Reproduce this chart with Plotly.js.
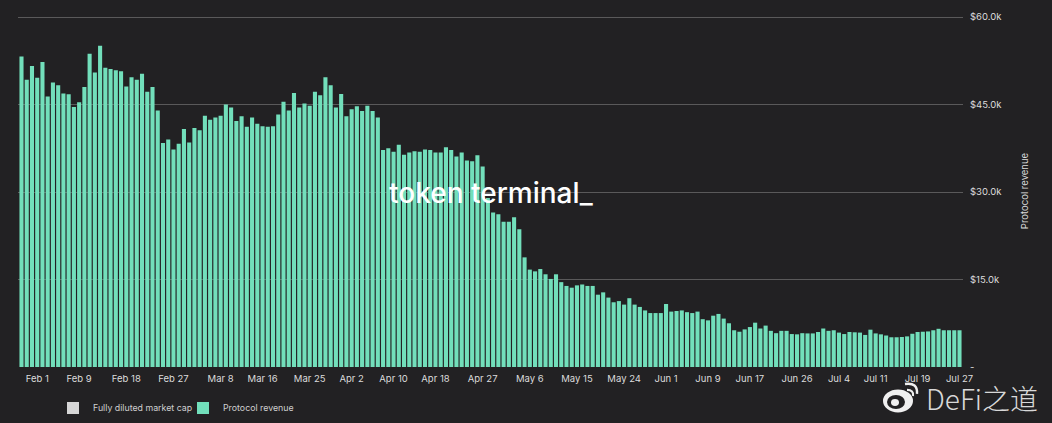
<!DOCTYPE html>
<html><head><meta charset="utf-8">
<script src="https://cdn.plot.ly/plotly-3.0.1.min.js"></script>
<style>html,body{margin:0;padding:0;background:#222123;overflow:hidden}</style>
</head><body><div id="chart" style="width:1052px;height:423px"></div>
<script>
const firstDay = '2022-01-29';
const oneDayMs = 86400000;
const protocolRevenueK = [
53.25,49.25,51.6,49.6,52.3,46.4,48.8,48.3,46.9,46.75,44.6,45.4,48.0,53.7,50.5,55.1,51.3,51.1,50.9,50.7,
48.1,49.7,49.25,50.3,47.2,48.0,44.0,38.4,39.0,37.3,38.3,40.8,38.5,41.0,40.6,43.1,42.4,42.8,43.1,45.0,
44.5,42.2,43.0,41.2,42.8,41.7,41.3,41.2,41.3,43.3,45.5,44.0,47.0,44.5,45.2,44.8,47.2,46.6,49.7,48.3,
44.5,46.8,43.0,44.2,44.7,43.9,44.8,43.9,42.8,37.2,37.5,36.9,38.1,36.4,36.8,37.0,36.9,37.3,37.2,36.8,
36.8,37.7,37.2,36.1,36.8,35.4,35.3,36.3,34.4,29.0,26.5,26.2,24.9,24.9,25.7,23.6,18.8,16.7,16.4,16.8,
15.9,15.1,15.9,14.55,13.9,13.6,14.0,14.15,13.9,13.9,12.4,12.8,11.9,11.1,11.3,10.7,11.8,10.7,10.3,9.7,
9.25,9.25,9.25,10.8,9.5,9.6,9.7,9.4,9.25,9.5,8.2,8.0,8.8,9.1,8.3,7.5,6.3,6.05,6.45,6.85,
7.6,6.6,7.1,6.2,5.8,6.2,6.2,5.65,5.6,5.8,5.76,5.76,6.0,6.6,6.2,6.3,5.9,5.65,6.0,5.95,
5.9,5.5,6.4,5.76,5.6,5.4,5.1,5.1,5.15,5.25,5.7,6.0,6.05,6.1,6.3,6.55,6.3,6.3,6.3,6.3
];
const marketCapPlaceholder = [null];
const tickDates = ['2022-02-01','2022-02-09','2022-02-18','2022-02-27','2022-03-08','2022-03-16','2022-03-25','2022-04-02','2022-04-10','2022-04-18','2022-04-27','2022-05-06','2022-05-15','2022-05-24','2022-06-01','2022-06-09','2022-06-17','2022-06-26','2022-07-04','2022-07-11','2022-07-19','2022-07-27'];
const tickLabels = ['Feb 1','Feb 9','Feb 18','Feb 27','Mar 8','Mar 16','Mar 25','Apr 2','Apr 10','Apr 18','Apr 27','May 6','May 15','May 24','Jun 1','Jun 9','Jun 17','Jun 26','Jul 4','Jul 11','Jul 19','Jul 27'];
const yTicks = [0,15,30,45,60];
const yLabels = ['-','$15.0k','$30.0k','$45.0k','$60.0k'];

const W=1052,H=423,L=18,R=963,T=14.5,B=367;
const px=x=>(x-L)/(R-L), py=y=>(B-y)/(B-T);
function ell(cx,cy,rx,ry,fill){return {type:'circle',xref:'paper',yref:'paper',x0:px(cx-rx),x1:px(cx+rx),y0:py(cy+ry),y1:py(cy-ry),fillcolor:fill,line:{width:0},layer:'above'};}
function arc(x0,y0,cx,cy,x1,y1,w){return {type:'path',xref:'paper',yref:'paper',path:`M ${px(x0)} ${py(y0)} Q ${px(cx)} ${py(cy)} ${px(x1)} ${py(y1)}`,line:{color:'#f0f0f0',width:w},fillcolor:'rgba(0,0,0,0)',layer:'above'};}

const traces=[
 {type:'bar',name:'Fully diluted market cap',x:[firstDay],y:marketCapPlaceholder,marker:{color:'#d6d6d6'},showlegend:true,hoverinfo:'skip'},
 {type:'bar',name:'Protocol revenue',x0:firstDay,dx:oneDayMs,y:protocolRevenueK,marker:{color:'#72dfbb',line:{width:0}},showlegend:true}
];
const layout={
 width:W,height:H,paper_bgcolor:'#222123',plot_bgcolor:'#222123',
 margin:{l:L,r:W-R,t:T,b:H-B,autoexpand:false},
 barmode:'overlay',bargap:0.22,
 font:{family:'Inter, "Liberation Sans", sans-serif',size:9.5,color:'#dcdcdc'},
 xaxis:{type:'date',range:['2022-01-28 08:00','2022-07-27 16:00'],tickmode:'array',tickvals:tickDates,ticktext:tickLabels,showgrid:false,zeroline:false,showline:false,ticks:'',tickangle:0,ticklabelstandoff:4,tickfont:{size:9.5,color:'#dcdcdc'}},
 yaxis:{side:'right',range:[0,60.36],tickmode:'array',tickvals:yTicks,ticktext:yLabels,showgrid:true,gridcolor:'#5a595a',gridwidth:1,zeroline:false,showline:false,ticks:'',ticklabelstandoff:6,tickfont:{size:9.5,color:'#dcdcdc'},
  title:{text:'Protocol revenue',font:{size:9.5,color:'#dcdcdc'},standoff:20}},
 legend:{orientation:'h',x:px(53),xanchor:'left',y:py(408),yanchor:'middle',font:{size:8.8,color:'#cfcfcf'},bgcolor:'rgba(0,0,0,0)',entrywidthmode:'pixels',entrywidth:85,traceorder:'normal',itemclick:false,itemdoubleclick:false},
 annotations:[
  {xref:'paper',yref:'paper',x:px(387),y:py(193),xanchor:'left',yanchor:'middle',showarrow:false,text:'token terminal_',font:{family:'Inter, Lato, sans-serif',size:28,color:'#ffffff',weight:500}},
  {xref:'paper',yref:'paper',x:px(924),y:py(398),xanchor:'left',yanchor:'middle',showarrow:false,text:'DeFi之道',font:{family:'"Noto Sans CJK SC", sans-serif',size:28,color:'#d8d8d8',weight:300}}
 ],
 shapes:[
  ell(898,401,15,11.5,'#f0f0f0'),
  ell(896,402,9,7,'#222123'),
  ell(895,402.5,4,3.5,'#f0f0f0'),
  arc(907,390,914,390,913,396,2.2),
  arc(905,384,918,382,917,394,2.4)
 ],
 showlegend:true
};
Plotly.newPlot('chart',traces,layout,{displayModeBar:false,staticPlot:true});
</script></body></html>
